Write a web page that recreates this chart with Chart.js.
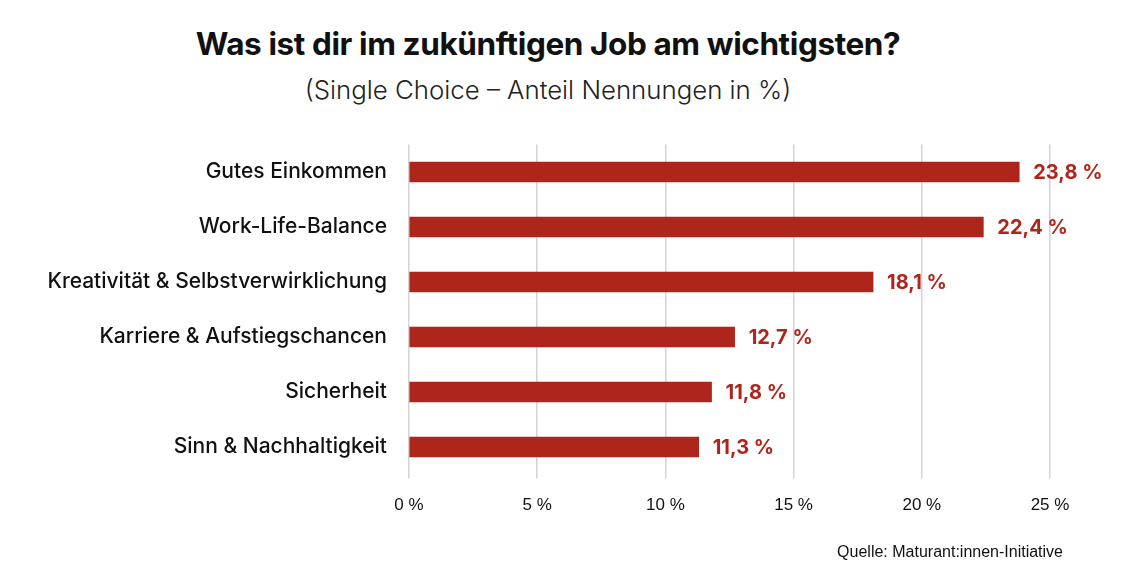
<!DOCTYPE html>
<html><head><meta charset="utf-8">
<script src="https://cdn.jsdelivr.net/npm/chart.js@4"></script>
<style>
html,body{margin:0;padding:0;background:#fff;}
#wrap{position:relative;width:1127px;height:580px;overflow:hidden;}
#title{position:absolute;left:0;top:25px;width:1096px;text-align:center;font-family:Inter,"Noto Sans",sans-serif;font-weight:700;font-size:31.5px;line-height:38px;color:#111;letter-spacing:-0.4px;}
#sub{position:absolute;left:0;top:74px;width:1096px;text-align:center;font-family:Inter,"Noto Sans",sans-serif;font-weight:300;font-size:25.8px;line-height:32px;color:#222;}
#src{position:absolute;right:64px;top:543px;font-family:"Liberation Sans Narrow","Liberation Sans",Arial,sans-serif;font-size:16px;color:#111;}
canvas{position:absolute;left:0;top:0;}
</style></head><body>
<div id="wrap">
<div id="title">Was ist dir im zukünftigen Job am wichtigsten?</div>
<div id="sub">(Single Choice – Anteil Nennungen in %)</div>
<canvas id="c" width="1127" height="580"></canvas>
<div id="src">Quelle: Maturant:innen-Initiative</div>
</div>
<script>
const categories = ["Gutes Einkommen","Work-Life-Balance","Kreativität & Selbstverwirklichung","Karriere & Aufstiegschancen","Sicherheit","Sinn & Nachhaltigkeit"];
const values = [23.8, 22.4, 18.1, 12.7, 11.8, 11.3];
const xTicks = [0,5,10,15,20,25];

const fmt = v => v.toFixed(1).replace('.', ',') + ' %';

const valueLabels = {
  id:'valueLabels',
  afterDatasetsDraw(chart){
    const ctx = chart.ctx;
    const meta = chart.getDatasetMeta(0);
    ctx.save();
    ctx.font = '700 20px Inter, "Noto Sans", sans-serif';
    ctx.fillStyle = '#AE251B';
    ctx.textAlign = 'left';
    ctx.textBaseline = 'middle';
    meta.data.forEach((bar,i)=>{
      ctx.fillText(fmt(values[i]), bar.x + 14, bar.y + 1);
    });
    ctx.restore();
  }
};

new Chart(document.getElementById('c'), {
  type:'bar',
  data:{labels:categories, datasets:[{data:values, backgroundColor:'#AE251B', barThickness:20}]},
  options:{
    indexAxis:'y',
    responsive:false,
    animation:false,
    layout:{padding:{top:144.5,right:77,left:0,bottom:0}},
    plugins:{legend:{display:false},tooltip:{enabled:false}},
    scales:{
      x:{
        min:0,max:25,
        afterBuildTicks(s){ s.ticks = xTicks.map(v=>({value:v})); },
        afterFit(s){ s.height = 105.5; },
        grid:{color:'#d3d3d3',lineWidth:1.5,drawTicks:true,tickLength:4},
        border:{display:false},
        ticks:{padding:17,color:'#111',font:{family:'"Liberation Sans Narrow","Liberation Sans",Arial,sans-serif',size:17},callback:v=>v+' %'}
      },
      y:{
        afterFit(s){ s.width = 409; },
        grid:{display:false},
        border:{display:false},
        ticks:{padding:14,color:'#111',font:{family:'Inter,"Noto Sans",sans-serif',size:21,weight:'500'}}
      }
    }
  },
  plugins:[valueLabels]
});
</script>
</body></html>
